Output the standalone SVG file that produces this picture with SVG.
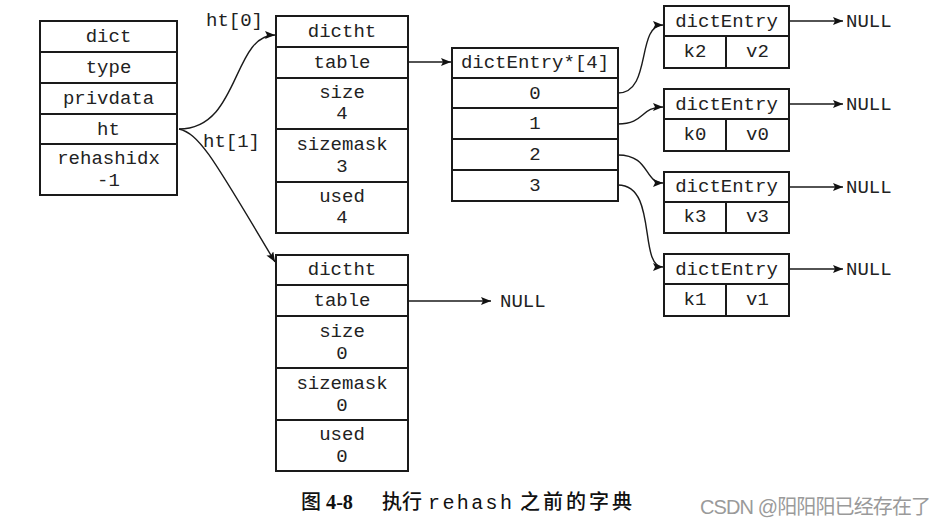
<svg xmlns="http://www.w3.org/2000/svg" width="941" height="526" viewBox="0 0 941 526">
<defs>
<marker id="ah" viewBox="0 0 10 8" refX="10" refY="4" markerWidth="10" markerHeight="8" markerUnits="userSpaceOnUse" orient="auto">
<path d="M0,0 L10,4 L0,8 L2,4 z" fill="#111"/>
</marker>
<style>
.box{fill:#fff;stroke:#1a1a1a;stroke-width:2}
.ln{stroke:#1a1a1a;stroke-width:2;fill:none}
.t{font-family:"Liberation Mono","DejaVu Sans Mono",monospace;font-size:19px;fill:#222;text-anchor:middle}
.l{font-family:"Liberation Mono","DejaVu Sans Mono",monospace;font-size:19px;fill:#222}
.c{stroke:#1a1a1a;stroke-width:1.4;fill:none;marker-end:url(#ah)}
.cap{font-family:"Noto Sans CJK SC",sans-serif;font-size:20px;fill:#111;font-weight:500}
</style>
</defs>
<rect width="941" height="526" fill="#fff"/>

<g id="dict">
<rect class="box" x="40" y="21" width="137" height="174"/>
<path class="ln" d="M40,52H177M40,83H177M40,114H177M40,144H177"/>
<text class="t" x="108.5" y="42">dict</text>
<text class="t" x="108.5" y="73">type</text>
<text class="t" x="108.5" y="104">privdata</text>
<text class="t" x="108.5" y="135">ht</text>
<text class="t" x="108.5" y="164">rehashidx</text>
<text class="t" x="108.5" y="186">-1</text>
</g>

<g id="dictht0">
<rect class="box" x="276" y="16" width="132" height="217"/>
<path class="ln" d="M276,47H408M276,78H408M276,129H408M276,182H408"/>
<text class="t" x="342" y="37">dictht</text>
<text class="t" x="342" y="68">table</text>
<text class="t" x="342" y="98">size</text>
<text class="t" x="342" y="119">4</text>
<text class="t" x="342" y="150">sizemask</text>
<text class="t" x="342" y="172">3</text>
<text class="t" x="342" y="202">used</text>
<text class="t" x="342" y="223">4</text>
</g>

<g id="dictht1">
<rect class="box" x="276" y="255" width="132" height="216"/>
<path class="ln" d="M276,285H408M276,316H408M276,368H408M276,420H408"/>
<text class="t" x="342" y="275">dictht</text>
<text class="t" x="342" y="306">table</text>
<text class="t" x="342" y="337">size</text>
<text class="t" x="342" y="359">0</text>
<text class="t" x="342" y="389">sizemask</text>
<text class="t" x="342" y="411">0</text>
<text class="t" x="342" y="440">used</text>
<text class="t" x="342" y="462">0</text>
</g>

<g id="array">
<rect class="box" x="452" y="48" width="166" height="153"/>
<path class="ln" d="M452,78H618M452,108H618M452,139H618M452,170H618"/>
<text class="t" x="535" y="68">dictEntry*[4]</text>
<text class="t" x="535" y="99">0</text>
<text class="t" x="535" y="129">1</text>
<text class="t" x="535" y="160">2</text>
<text class="t" x="535" y="191">3</text>
</g>

<g id="entry_k2">
<rect class="box" x="664" y="6" width="125" height="62"/>
<path class="ln" d="M664,36H789M726,36V68"/>
<text class="t" x="726.5" y="27">dictEntry</text>
<text class="t" x="695" y="57">k2</text>
<text class="t" x="757.5" y="57">v2</text>
</g>
<g id="entry_k0">
<rect class="box" x="664" y="89" width="125" height="62"/>
<path class="ln" d="M664,119H789M726,119V151"/>
<text class="t" x="726.5" y="110">dictEntry</text>
<text class="t" x="695" y="140">k0</text>
<text class="t" x="757.5" y="140">v0</text>
</g>
<g id="entry_k3">
<rect class="box" x="664" y="172" width="125" height="61"/>
<path class="ln" d="M664,202H789M726,202V233"/>
<text class="t" x="726.5" y="192">dictEntry</text>
<text class="t" x="695" y="222">k3</text>
<text class="t" x="757.5" y="222">v3</text>
</g>
<g id="entry_k1">
<rect class="box" x="664" y="254" width="125" height="62"/>
<path class="ln" d="M664,284H789M726,284V316"/>
<text class="t" x="726.5" y="275">dictEntry</text>
<text class="t" x="695" y="305">k1</text>
<text class="t" x="757.5" y="305">v1</text>
</g>

<g id="connectors">
<path class="c" d="M179,129 C240,129 232,35 275,35"/>
<path class="c" d="M179,129 C200,134 214,160 275,262"/>
<path class="c" d="M408,62 H451"/>
<path class="c" d="M408,301 H491"/>
<path class="c" d="M618,93 C652,93 636,25 663,25"/>
<path class="c" d="M618,124 C645,124 640,107 663,107"/>
<path class="c" d="M618,155 C650,155 644,183 663,183"/>
<path class="c" d="M618,185 C658,185 638,267 663,267"/>
<path class="c" d="M789,21 H843"/>
<path class="c" d="M789,104 H843"/>
<path class="c" d="M789,187 H843"/>
<path class="c" d="M789,269 H843"/>
</g>

<g id="labels">
<text class="l" x="206" y="26">ht[0]</text>
<text class="l" x="203" y="147">ht[1]</text>
<text class="l" x="846" y="27">NULL</text>
<text class="l" x="846" y="110">NULL</text>
<text class="l" x="846" y="193">NULL</text>
<text class="l" x="846" y="275">NULL</text>
<text class="l" x="500" y="307">NULL</text>
</g>

<g id="caption">
<text class="cap" x="301" y="509">图</text>
<text x="326" y="509" font-family="Liberation Serif,serif" font-size="21" font-weight="bold" fill="#111" textLength="27" lengthAdjust="spacingAndGlyphs">4-8</text>
<text class="cap" x="382" y="509" textLength="40">执行</text>
<text x="428" y="509" font-family="Liberation Mono,monospace" font-size="20" fill="#111" textLength="84">rehash</text>
<text class="cap" x="520" y="509" textLength="112">之前的字典</text>
<text x="700" y="514" font-family="Liberation Sans,Noto Sans CJK SC,sans-serif" font-size="20" fill="#9a9a9a" textLength="231">CSDN @阳阳阳已经存在了</text>
</g>
</svg>
